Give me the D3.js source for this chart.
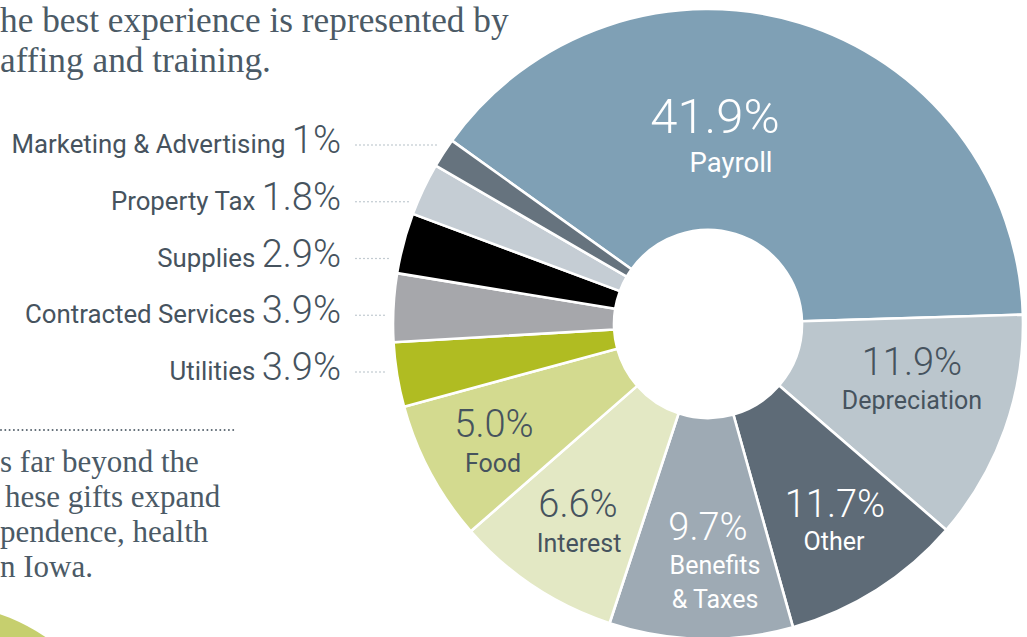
<!DOCTYPE html>
<html>
<head>
<meta charset="utf-8">
<script src="https://cdn.jsdelivr.net/npm/d3@7"></script>
<style>
  body { margin: 0; background: #fff; }
  svg { display: block; }
  text { font-family: Roboto, 'Noto Sans', sans-serif; }
  .serif { font-family: 'Liberation Serif', serif; fill: #4b5a66; }
</style>
</head>
<body>
<svg id="chart" width="1027" height="637"></svg>
<script>
// slices in clockwise order, starting with Payroll
const categories = ['Payroll', 'Depreciation', 'Other', 'Benefits & Taxes', 'Interest', 'Food',
  'Utilities', 'Contracted Services', 'Supplies', 'Property Tax', 'Marketing & Advertising'];
const pctLabels = ['41.9%', '11.9%', '11.7%', '9.7%', '6.6%', '5.0%', '3.9%', '3.9%', '2.9%', '1.8%', '1%'];
// share of the circle each slice takes in the drawing (the artwork is not exactly to scale)
const shares = [39.6, 11.8, 9.3, 9.4, 8.5, 7.2, 3.3, 3.5, 3.1, 2.7, 1.5];
const colors = ['#7fa0b5', '#bbc6cd', '#5e6b77', '#9eaab4', '#e3e8c4', '#d3da8f',
  '#b0bc22', '#a6a7ab', '#000000', '#c5cdd4', '#66737e'];

// legend rows on the left, top to bottom
const sideCategories = ['Marketing & Advertising', 'Property Tax', 'Supplies', 'Contracted Services', 'Utilities'];

const introLines = ['he best experience is represented by', 'affing and training.'];
const closingLines = ['s far beyond the', 'hese gifts expand', 'pendence, health', 'n Iowa.'];

const svg = d3.select('#chart');
const cx = 708, cy = 324;
const outerR = 315, innerR = 94;
const textDark = '#46535e';

const color = d3.scaleOrdinal().domain(categories).range(colors);
const pctOf = new Map(categories.map((c, i) => [c, pctLabels[i]]));

// body copy around the chart
svg.append('g').selectAll('text')
  .data(introLines)
  .join('text')
  .attr('class', 'serif')
  .attr('x', 0)
  .attr('y', (d, i) => 32 + i * 40)
  .style('font-size', '35.3px')
  .text(d => d);

svg.append('line')
  .attr('x1', 1).attr('x2', 235)
  .attr('y1', 430).attr('y2', 430)
  .attr('stroke', '#5a6670')
  .attr('stroke-width', 2)
  .attr('stroke-linecap', 'round')
  .attr('stroke-dasharray', '0 4.3');

svg.append('g').selectAll('text')
  .data(closingLines)
  .join('text')
  .attr('class', 'serif')
  .attr('x', (d, i) => i === 1 ? 5 : 0)
  .attr('y', (d, i) => 472 + i * 35)
  .style('font-size', '31px')
  .text(d => d);

// green disc peeking in at the bottom-left corner
svg.append('circle')
  .attr('cx', -70).attr('cy', 810).attr('r', 208)
  .attr('fill', '#c6cf6e');

// donut
const pie = d3.pie()
  .sort(null)
  .value(d => d.value)
  .startAngle(-54.4 * Math.PI / 180)
  .endAngle(-54.4 * Math.PI / 180 + 2 * Math.PI);

const arcs = pie(categories.map((c, i) => ({ name: c, value: shares[i] })));

const arc = d3.arc().innerRadius(innerR).outerRadius(outerR);

const g = svg.append('g').attr('transform', `translate(${cx},${cy})`);

g.selectAll('path')
  .data(arcs)
  .join('path')
  .attr('d', arc)
  .attr('fill', d => color(d.data.name))
  .attr('stroke', '#fff')
  .attr('stroke-width', 2.6)
  .attr('stroke-linejoin', 'round');

// labels inside the slices
const inside = [
  { name: 'Payroll', lines: ['Payroll'], x: 715, y: 133, numSize: 49, nameX: 731, nameSize: 27.5, gap: 39, fill: '#fff' },
  { name: 'Depreciation', lines: ['Depreciation'], x: 912, y: 375, numSize: 38, nameX: 912, nameSize: 25, gap: 34, fill: textDark },
  { name: 'Other', lines: ['Other'], x: 835, y: 517, numSize: 38, nameX: 834, nameSize: 25, gap: 33, fill: '#fff' },
  { name: 'Benefits & Taxes', lines: ['Benefits', '& Taxes'], x: 708, y: 540, numSize: 38, nameX: 715, nameSize: 25, gap: 34, fill: '#fff' },
  { name: 'Interest', lines: ['Interest'], x: 578, y: 517, numSize: 38, nameX: 579, nameSize: 25, gap: 35, fill: textDark },
  { name: 'Food', lines: ['Food'], x: 494, y: 437, numSize: 38, nameX: 493, nameSize: 25, gap: 35, fill: textDark }
];

const insideG = svg.append('g').selectAll('g')
  .data(inside)
  .join('g');

insideG.append('text')
  .attr('x', d => d.x)
  .attr('y', d => d.y)
  .attr('text-anchor', 'middle')
  .attr('fill', d => d.fill)
  .style('font-size', d => d.numSize + 'px')
  .style('font-weight', 300)
  .text(d => pctOf.get(d.name));

insideG.each(function (d) {
  d3.select(this).selectAll('text.name')
    .data(d.lines)
    .join('text')
    .attr('class', 'name')
    .attr('x', d.nameX)
    .attr('y', (l, i) => d.y + d.gap * (i + 1))
    .attr('text-anchor', 'middle')
    .attr('fill', d.fill)
    .style('font-size', d.nameSize + 'px')
    .text(l => l);
});

// legend rows for the thin slices
const rowY = d3.scalePoint().domain(sideCategories).range([153, 380]);
const labelRight = 341;

const rows = svg.append('g').selectAll('g')
  .data(sideCategories)
  .join('g');

const rowText = rows.append('text')
  .attr('x', labelRight)
  .attr('y', d => rowY(d))
  .attr('text-anchor', 'end')
  .attr('fill', textDark);

rowText.append('tspan')
  .style('font-size', '25.8px')
  .text(d => d + ' ');

rowText.append('tspan')
  .style('font-size', '38px')
  .style('font-weight', 300)
  .text(d => pctOf.get(d));

// dotted leaders run up to the edge of the donut
rows.append('line')
  .attr('x1', 356)
  .attr('x2', d => {
    const dy = rowY(d) - 8 - cy;
    return cx - Math.sqrt(outerR * outerR - dy * dy) - 9;
  })
  .attr('y1', d => rowY(d) - 8)
  .attr('y2', d => rowY(d) - 8)
  .attr('stroke', '#a9b5be')
  .attr('stroke-width', 1.6)
  .attr('stroke-linecap', 'round')
  .attr('stroke-dasharray', '0 4');
</script>
</body>
</html>
